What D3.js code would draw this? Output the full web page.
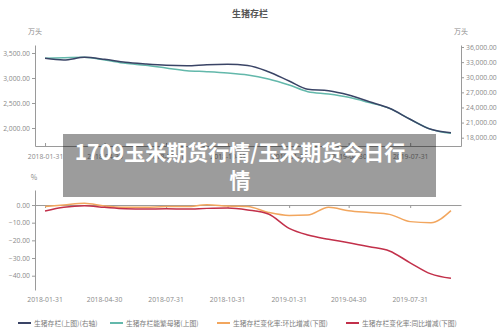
<!DOCTYPE html>
<html>
<head>
<meta charset="utf-8">
<script src="https://cdn.jsdelivr.net/npm/d3@7"></script>
<style>
  html, body { margin: 0; padding: 0; background: #fff; }
  svg { display: block; }
</style>
</head>
<body>
<svg id="chart" width="500" height="332"></svg>
<script>
// Month-end dates, Jan 2018 – Sep 2019
const months = [
  "2018-01-31","2018-02-28","2018-03-31","2018-04-30","2018-05-31","2018-06-30",
  "2018-07-31","2018-08-31","2018-09-30","2018-10-31","2018-11-30","2018-12-31",
  "2019-01-31","2019-02-28","2019-03-31","2019-04-30","2019-05-31","2019-06-30",
  "2019-07-31","2019-08-31","2019-09-30"
];
// 生猪存栏 (万头, right axis)
const hogStock = [33760, 33420, 33960, 33560, 32970, 32630, 32370, 32290, 32490, 32570, 32330,
  31100, 29250, 27610, 27330, 26480, 25150, 23840, 21660, 19670, 19000];
// 能繁母猪存栏 (万头, left axis)
const sowStock = [3394, 3406, 3413, 3360, 3293, 3253, 3200, 3147, 3127, 3100, 3060,
  2980, 2860, 2727, 2680, 2613, 2507, 2393, 2173, 1973, 1893];
// 环比增减 (%)
const momChange = [-0.9, 0.0, 1.0, -0.6, -1.3, -1.3, -0.9, -0.9, 0.2, -0.6, -0.9,
  -4.2, -5.9, -5.7, -1.3, -3.2, -4.3, -5.3, -9.4, -10.0, -3.2];
// 同比增减 (%)
const yoyChange = [-3.4, -1.3, -0.4, -1.3, -2.1, -2.3, -2.1, -2.3, -1.9, -1.7, -2.8,
  -5.1, -13.2, -17.0, -19.4, -21.3, -23.6, -26.0, -32.7, -39.0, -41.5];

const dateTicks = ["2018-01-31","2018-04-30","2018-07-31","2018-10-31","2019-01-31","2019-04-30","2019-07-31"];
const leftTicks = [2000, 2500, 3000, 3500];
const rightTicks = [18000, 21000, 24000, 27000, 30000, 33000, 36000];
const pctTicks = [0, -10, -20, -30, -40];

const seriesNames = [
  "生猪存栏(上图)(右轴)",
  "生猪存栏能繁母猪(上图)",
  "生猪存栏变化率:环比增减(下图)",
  "生猪存栏变化率:同比增减(下图)"
];
const colors = ["#3a4466", "#63b8ab", "#f2a65e", "#c2304a"];

const chartTitle = "生猪存栏";
const unitLabel = "万头";
const bannerLines = ["1709玉米期货行情/玉米期货今日行", "情"];

const parse = d3.utcParse("%Y-%m-%d");
const dates = months.map(parse);

const svg = d3.select("#chart");
const font = "'Noto Sans CJK SC', 'Open Sans', sans-serif";
const tickColor = "#8a8a8a";
const axisColor = "#9a9a9a";

const x = d3.scaleUtc()
  .domain([parse("2018-01-16"), parse("2019-10-15")])
  .range([35, 461]);

// ---- upper panel ----
const yLeft = d3.scaleLinear().domain([1640, 3660]).range([146, 45]);
const yRight = d3.scaleLinear().domain([16350, 36400]).range([146, 45]);

function styleAxis(g) {
  g.selectAll(".domain").attr("stroke", axisColor);
  g.selectAll(".tick line").attr("stroke", axisColor);
  g.selectAll(".tick text")
    .attr("fill", tickColor)
    .style("font-family", "'Open Sans', sans-serif")
    .style("font-size", "6.8px");
}

const fmt2 = d3.format(",.2f");

svg.append("g")
  .attr("transform", "translate(35,0)")
  .call(d3.axisLeft(yLeft).tickValues(leftTicks).tickFormat(fmt2).tickSize(3).tickSizeOuter(0).tickPadding(2))
  .call(styleAxis);

svg.append("g")
  .attr("transform", "translate(461,0)")
  .call(d3.axisRight(yRight).tickValues(rightTicks).tickFormat(fmt2).tickSize(3).tickSizeOuter(0).tickPadding(2))
  .call(styleAxis);

svg.append("g")
  .attr("transform", "translate(0,146)")
  .call(d3.axisBottom(x).tickValues(dateTicks.map(parse)).tickFormat(d3.utcFormat("%Y-%m-%d"))
    .tickSize(-3).tickSizeOuter(0).tickPadding(8))
  .call(styleAxis);

svg.append("text")
  .attr("x", 250).attr("y", 17)
  .attr("text-anchor", "middle")
  .attr("fill", "#555")
  .style("font-family", font)
  .style("font-size", "9px")
  .style("font-weight", "bold")
  .text(chartTitle);

svg.append("text").attr("x", 35).attr("y", 34).attr("text-anchor", "middle")
  .attr("fill", tickColor).style("font-family", font).style("font-size", "7px").text(unitLabel);
svg.append("text").attr("x", 461).attr("y", 34).attr("text-anchor", "middle")
  .attr("fill", tickColor).style("font-family", font).style("font-size", "7px").text(unitLabel);

const lineTopL = d3.line().x((d, i) => x(dates[i])).y(d => yLeft(d)).curve(d3.curveMonotoneX);
const lineTopR = d3.line().x((d, i) => x(dates[i])).y(d => yRight(d)).curve(d3.curveMonotoneX);

svg.append("path").datum(sowStock)
  .attr("d", lineTopL).attr("fill", "none").attr("stroke", colors[1]).attr("stroke-width", 1.5);
svg.append("path").datum(hogStock)
  .attr("d", lineTopR).attr("fill", "none").attr("stroke", colors[0]).attr("stroke-width", 1.5);

// ---- lower panel ----
const yPct = d3.scaleLinear().domain([-48.1, 8.5]).range([290, 190]);

svg.append("g")
  .attr("transform", "translate(35,0)")
  .call(d3.axisLeft(yPct).tickValues(pctTicks).tickFormat(fmt2).tickSize(3).tickSizeOuter(0).tickPadding(2))
  .call(styleAxis);

// zero line with date ticks
svg.append("g")
  .attr("transform", `translate(0,${yPct(0)})`)
  .call(d3.axisBottom(x).tickValues(dateTicks.map(parse)).tickFormat("").tickSize(3).tickSizeOuter(0))
  .call(styleAxis);

// date labels along the bottom
svg.append("g").selectAll("text")
  .data(dateTicks)
  .join("text")
  .attr("x", d => x(parse(d)))
  .attr("y", 302)
  .attr("text-anchor", "middle")
  .attr("fill", tickColor)
  .style("font-family", "'Open Sans', sans-serif")
  .style("font-size", "6.8px")
  .text(d => d);

svg.append("text").attr("x", 34).attr("y", 180).attr("text-anchor", "middle")
  .attr("fill", tickColor).style("font-family", font).style("font-size", "7px").text("%");

const lineBot = d3.line().x((d, i) => x(dates[i])).y(d => yPct(d)).curve(d3.curveMonotoneX);
svg.append("path").datum(momChange)
  .attr("d", lineBot).attr("fill", "none").attr("stroke", colors[2]).attr("stroke-width", 1.5);
svg.append("path").datum(yoyChange)
  .attr("d", lineBot).attr("fill", "none").attr("stroke", colors[3]).attr("stroke-width", 1.5);

// ---- legend ----
const legendX = [18, 110, 217, 346];
const legend = svg.append("g").attr("transform", "translate(0,323)");
seriesNames.forEach((name, i) => {
  const g = legend.append("g").attr("transform", `translate(${legendX[i]},0)`);
  g.append("line").attr("x1", 0).attr("x2", 13).attr("y1", 0).attr("y2", 0)
    .attr("stroke", colors[i]).attr("stroke-width", 2);
  g.append("text").attr("x", 16).attr("y", 2.5)
    .attr("fill", "#7a7a7a")
    .style("font-family", font)
    .style("font-size", "6.8px")
    .text(name);
});

// ---- banner ----
const banner = svg.append("g");
banner.append("rect")
  .attr("x", 63).attr("y", 134).attr("width", 373).attr("height", 63)
  .attr("fill", "rgba(0,0,0,0.39)");
bannerLines.forEach((t, i) => {
  banner.append("text")
    .attr("x", 240).attr("y", 160 + i * 28)
    .attr("text-anchor", "middle")
    .attr("fill", "#fff")
    .style("font-family", font)
    .style("font-size", "21px")
    .style("font-weight", "bold")
    .text(t);
});
</script>
</body>
</html>
